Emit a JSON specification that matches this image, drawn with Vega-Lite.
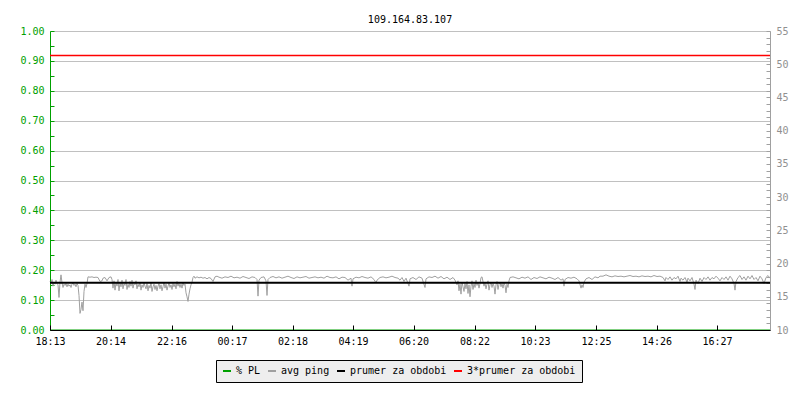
{
  "$schema": "https://vega.github.io/schema/vega-lite/v6.json",
  "width": 720,
  "height": 299,
  "autosize": "none",
  "padding": {"left": 50, "top": 31, "right": 30, "bottom": 70},
  "background": "white",
  "config": {
    "view": {"stroke": null},
    "font": "DejaVu Sans Mono",
    "axis": {"labelFont": "DejaVu Sans Mono", "labelFontSize": 10}
  },
  "title": {"text": "109.164.83.107", "font": "DejaVu Sans Mono", "fontSize": 10, "fontWeight": "normal", "color": "black", "anchor": "middle", "offset": 1},
  "datasets": {
    "pl": [{"m": 0, "pl": 0}, {"m": 1440, "pl": 0}],
    "ping": [
      {"m":0,"v":17.3},{"m":2,"v":17.0},{"m":4,"v":17.6},{"m":6,"v":16.6},{"m":8,"v":17.2},{"m":10,"v":16.9},{"m":12,"v":17.5},{"m":14,"v":17.0},{"m":16,"v":16.8},{"m":18,"v":14.9},{"m":20,"v":17.2},{"m":22,"v":18.3},{"m":24,"v":17.1},{"m":26,"v":16.4},{"m":28,"v":16.9},{"m":30,"v":16.7},{"m":32,"v":17.0},{"m":34,"v":16.5},{"m":36,"v":16.9},{"m":38,"v":16.6},{"m":40,"v":16.8},{"m":42,"v":16.4},{"m":44,"v":16.9},{"m":46,"v":17.1},{"m":48,"v":16.7},{"m":50,"v":16.9},{"m":52,"v":16.5},{"m":54,"v":17.0},{"m":56,"v":16.7},{"m":58,"v":15.2},{"m":60,"v":12.5},{"m":62,"v":13.1},{"m":64,"v":14.2},{"m":66,"v":12.9},{"m":68,"v":15.8},{"m":70,"v":16.9},{"m":72,"v":16.4},{"m":74,"v":17.0},{"m":76,"v":18.0},{"m":80,"v":17.95},{"m":84,"v":18.0},{"m":88,"v":17.9},{"m":92,"v":17.95},{"m":96,"v":17.9},{"m":100,"v":17.3},{"m":104,"v":17.4},{"m":106,"v":17.8},{"m":110,"v":17.9},{"m":114,"v":17.4},{"m":118,"v":17.9},{"m":122,"v":18.0},{"m":124,"v":17.6},
      {"m":126,"v":16.3},{"m":128,"v":17.4},{"m":130,"v":16.0},{"m":132,"v":17.2},{"m":134,"v":16.6},{"m":136,"v":17.6},{"m":138,"v":15.9},{"m":140,"v":17.1},{"m":142,"v":16.5},{"m":144,"v":17.5},{"m":146,"v":16.2},{"m":148,"v":17.0},{"m":150,"v":16.7},{"m":152,"v":17.6},{"m":154,"v":16.1},{"m":156,"v":16.9},{"m":158,"v":16.4},{"m":160,"v":17.3},{"m":162,"v":16.6},{"m":164,"v":17.5},{"m":166,"v":16.3},{"m":168,"v":17.0},{"m":170,"v":16.8},{"m":172,"v":17.4},{"m":174,"v":16.2},{"m":176,"v":16.9},{"m":178,"v":16.5},{"m":180,"v":17.2},{"m":182,"v":16.0},{"m":184,"v":16.8},{"m":186,"v":16.4},{"m":188,"v":17.1},{"m":190,"v":16.6},{"m":192,"v":16.2},{"m":194,"v":17.0},{"m":196,"v":15.9},{"m":198,"v":16.7},{"m":200,"v":16.3},{"m":202,"v":17.1},{"m":204,"v":15.8},{"m":206,"v":16.5},{"m":208,"v":16.9},{"m":210,"v":16.1},{"m":212,"v":16.7},{"m":214,"v":15.9},{"m":216,"v":16.6},{"m":218,"v":17.0},{"m":220,"v":16.2},{"m":222,"v":16.8},{"m":224,"v":15.9},{"m":226,"v":16.5},{"m":228,"v":17.2},{"m":230,"v":16.3},{"m":232,"v":16.9},{"m":234,"v":16.0},{"m":236,"v":16.6},{"m":238,"v":17.1},{"m":240,"v":16.4},{"m":242,"v":16.8},{"m":244,"v":16.1},{"m":246,"v":17.0},{"m":248,"v":16.5},{"m":250,"v":16.9},{"m":252,"v":16.2},{"m":254,"v":17.3},{"m":256,"v":16.6},{"m":258,"v":17.0},{"m":260,"v":16.4},{"m":262,"v":16.9},{"m":264,"v":16.3},{"m":266,"v":17.1},{"m":268,"v":16.7},{"m":270,"v":16.9},{"m":272,"v":15.6},{"m":274,"v":15.0},{"m":276,"v":14.3},{"m":278,"v":15.4},{"m":280,"v":16.2},{"m":282,"v":16.8},{"m":284,"v":17.2},
      {"m":286,"v":17.9},{"m":288,"v":18.1},{"m":290,"v":17.8},{"m":294,"v":18.0},{"m":298,"v":17.85},{"m":302,"v":17.95},{"m":306,"v":17.8},{"m":310,"v":17.9},{"m":314,"v":17.7},{"m":318,"v":17.9},{"m":322,"v":17.75},{"m":326,"v":17.3},{"m":330,"v":18.0},{"m":334,"v":18.1},{"m":338,"v":17.95},{"m":344,"v":17.8},{"m":350,"v":18.0},{"m":356,"v":17.9},{"m":362,"v":18.1},{"m":368,"v":17.85},{"m":374,"v":17.95},{"m":380,"v":17.8},{"m":386,"v":18.05},{"m":392,"v":17.9},{"m":398,"v":17.75},{"m":404,"v":18.0},{"m":410,"v":17.9},{"m":414,"v":17.6},{"m":416,"v":15.1},{"m":418,"v":17.5},{"m":422,"v":17.9},{"m":428,"v":18.0},{"m":432,"v":17.4},{"m":434,"v":15.2},{"m":436,"v":17.6},{"m":440,"v":17.9},{"m":446,"v":18.05},{"m":452,"v":17.85},{"m":458,"v":18.0},{"m":464,"v":17.8},{"m":470,"v":17.95},{"m":476,"v":18.1},{"m":482,"v":17.9},{"m":488,"v":17.75},{"m":494,"v":18.0},{"m":500,"v":17.85},{"m":506,"v":17.95},{"m":512,"v":18.05},{"m":518,"v":17.8},{"m":524,"v":17.9},{"m":530,"v":18.0},{"m":536,"v":17.85},{"m":542,"v":17.95},{"m":548,"v":17.8},{"m":554,"v":18.1},{"m":560,"v":17.9},{"m":566,"v":17.85},{"m":572,"v":18.0},{"m":578,"v":17.7},{"m":584,"v":17.95},{"m":590,"v":17.9},{"m":596,"v":17.5},{"m":602,"v":17.8},{"m":604,"v":16.6},{"m":606,"v":17.7},{"m":612,"v":17.95},{"m":618,"v":17.85},{"m":624,"v":18.05},{"m":630,"v":17.9},{"m":636,"v":17.8},{"m":642,"v":18.0},{"m":648,"v":17.6},{"m":652,"v":17.1},{"m":654,"v":17.5},{"m":660,"v":17.9},{"m":666,"v":18.0},{"m":672,"v":17.85},{"m":678,"v":17.95},{"m":684,"v":18.1},{"m":690,"v":17.9},
      {"m":696,"v":17.8},{"m":700,"v":17.5},{"m":704,"v":17.9},{"m":708,"v":17.3},{"m":712,"v":17.8},{"m":718,"v":16.6},{"m":720,"v":17.7},{"m":726,"v":17.9},{"m":732,"v":17.6},{"m":738,"v":18.0},{"m":744,"v":17.8},{"m":750,"v":16.4},{"m":752,"v":17.7},{"m":758,"v":18.0},{"m":764,"v":17.9},{"m":770,"v":18.1},{"m":776,"v":17.8},{"m":782,"v":18.05},{"m":788,"v":17.7},{"m":794,"v":17.95},{"m":800,"v":17.6},{"m":806,"v":17.9},{"m":810,"v":17.5},
      {"m":814,"v":16.8},{"m":816,"v":17.4},{"m":818,"v":15.9},{"m":820,"v":16.9},{"m":822,"v":15.4},{"m":824,"v":17.2},{"m":826,"v":16.5},{"m":828,"v":15.8},{"m":830,"v":17.0},{"m":832,"v":16.2},{"m":834,"v":17.3},{"m":836,"v":15.5},{"m":838,"v":16.8},{"m":840,"v":15.0},{"m":842,"v":16.6},{"m":844,"v":17.4},{"m":846,"v":16.1},{"m":848,"v":17.0},{"m":850,"v":16.4},{"m":852,"v":17.5},{"m":854,"v":16.7},{"m":856,"v":17.2},{"m":858,"v":16.3},{"m":860,"v":17.0},{"m":862,"v":17.9},{"m":864,"v":18.0},{"m":866,"v":17.3},{"m":868,"v":16.6},{"m":870,"v":17.1},{"m":872,"v":16.2},{"m":874,"v":16.9},{"m":876,"v":17.4},{"m":878,"v":16.0},{"m":880,"v":16.8},{"m":882,"v":17.2},{"m":884,"v":16.4},{"m":886,"v":17.0},{"m":888,"v":16.6},{"m":890,"v":15.4},{"m":892,"v":16.8},{"m":894,"v":17.3},{"m":896,"v":16.1},{"m":898,"v":16.9},{"m":900,"v":17.2},{"m":902,"v":16.5},{"m":904,"v":17.0},{"m":906,"v":16.3},{"m":908,"v":17.1},{"m":910,"v":16.7},{"m":912,"v":15.6},{"m":914,"v":16.9},{"m":916,"v":16.4},{"m":918,"v":17.4},{"m":920,"v":17.9},
      {"m":926,"v":18.0},{"m":932,"v":17.85},{"m":938,"v":17.7},{"m":944,"v":17.95},{"m":950,"v":17.8},{"m":956,"v":18.0},{"m":962,"v":17.6},{"m":968,"v":17.9},{"m":974,"v":17.75},{"m":980,"v":18.0},{"m":986,"v":17.85},{"m":992,"v":17.7},{"m":998,"v":17.95},{"m":1004,"v":17.8},{"m":1010,"v":17.6},{"m":1016,"v":17.9},{"m":1022,"v":17.5},{"m":1026,"v":17.7},{"m":1028,"v":16.6},{"m":1030,"v":17.6},{"m":1036,"v":17.9},{"m":1042,"v":17.8},{"m":1048,"v":17.95},{"m":1054,"v":17.7},{"m":1058,"v":17.4},{"m":1062,"v":16.3},{"m":1064,"v":16.8},{"m":1066,"v":16.4},{"m":1068,"v":17.2},{"m":1072,"v":17.7},{"m":1078,"v":17.9},{"m":1084,"v":17.6},{"m":1090,"v":18.0},{"m":1096,"v":17.85},{"m":1100,"v":18.1},
      {"m":1106,"v":18.1},{"m":1112,"v":18.3},{"m":1118,"v":18.1},{"m":1124,"v":18.0},{"m":1130,"v":18.15},{"m":1136,"v":18.05},{"m":1142,"v":18.1},{"m":1148,"v":18.0},{"m":1154,"v":18.1},{"m":1160,"v":18.2},{"m":1166,"v":18.05},{"m":1172,"v":18.1},{"m":1178,"v":18.0},{"m":1184,"v":18.15},{"m":1190,"v":18.05},{"m":1196,"v":18.1},{"m":1202,"v":18.0},{"m":1208,"v":18.2},{"m":1214,"v":18.05},{"m":1220,"v":18.1},{"m":1226,"v":17.9},
      {"m":1230,"v":17.4},{"m":1232,"v":17.9},{"m":1236,"v":17.6},{"m":1240,"v":18.0},{"m":1244,"v":17.5},{"m":1248,"v":17.9},{"m":1252,"v":17.7},{"m":1256,"v":18.1},{"m":1260,"v":17.3},{"m":1262,"v":17.8},{"m":1266,"v":17.5},{"m":1270,"v":17.9},{"m":1274,"v":17.2},{"m":1276,"v":17.8},{"m":1280,"v":17.4},{"m":1284,"v":17.9},{"m":1288,"v":16.9},{"m":1290,"v":16.1},{"m":1292,"v":17.5},{"m":1296,"v":17.0},{"m":1300,"v":17.8},{"m":1304,"v":17.3},{"m":1308,"v":17.9},{"m":1312,"v":17.6},{"m":1316,"v":18.0},{"m":1320,"v":17.5},{"m":1324,"v":17.9},{"m":1328,"v":17.7},{"m":1332,"v":18.1},{"m":1336,"v":17.8},{"m":1340,"v":17.4},{"m":1344,"v":17.9},{"m":1348,"v":17.6},{"m":1352,"v":18.0},{"m":1356,"v":17.5},{"m":1360,"v":18.1},{"m":1364,"v":17.7},{"m":1368,"v":17.0},{"m":1370,"v":16.0},{"m":1372,"v":17.3},{"m":1376,"v":17.9},{"m":1380,"v":18.2},{"m":1384,"v":17.6},{"m":1388,"v":18.0},{"m":1392,"v":17.5},{"m":1396,"v":18.1},{"m":1400,"v":17.7},{"m":1404,"v":18.2},{"m":1408,"v":17.6},{"m":1412,"v":17.9},{"m":1416,"v":17.4},{"m":1420,"v":18.1},{"m":1424,"v":17.7},{"m":1428,"v":17.0},{"m":1432,"v":17.9},{"m":1436,"v":18.2},{"m":1440,"v":17.8}
    ],
    "mean": [{"v": 17.1}],
    "mean3": [{"v": 51.3}]
  },
  "layer": [
    {
      "data": {"name": "ping"},
      "mark": {"type": "line", "strokeWidth": 1},
      "encoding": {
        "x": {
          "field": "m", "type": "quantitative",
          "scale": {"domain": [0, 1440], "nice": false, "zero": false},
          "axis": {
            "title": null, "grid": false, "zindex": 1,
            "values": [0, 121, 243, 364, 485, 606, 727, 849, 970, 1092, 1213, 1334],
            "labelExpr": "format(floor(((1093 + datum.value) % 1440) / 60), '02d') + ':' + format((1093 + datum.value) % 60, '02d')",
            "domainColor": "black", "tickColor": "black", "tickSize": -5, "labelPadding": 11,
            "labelColor": "black", "labelFlush": false
          }
        },
        "y": {
          "field": "v", "type": "quantitative",
          "scale": {"domain": [10, 55], "nice": false, "zero": false},
          "axis": {
            "title": null, "orient": "right", "grid": false,
            "values": [10,11,12,13,14,15,16,17,18,19,20,21,22,23,24,25,26,27,28,29,30,31,32,33,34,35,36,37,38,39,40,41,42,43,44,45,46,47,48,49,50,51,52,53,54,55],
            "labelExpr": "datum.value % 5 == 0 ? datum.label : ''",
            "domainColor": "#a0a0a0", "tickColor": "#a0a0a0", "labelColor": "#909090",
            "tickSize": -4, "labelPadding": 10, "labelFlush": false
          }
        },
        "color": {
          "datum": "avg ping",
          "scale": {
            "domain": ["% PL", "avg ping", "prumer za obdobi", "3*prumer za obdobi"],
            "range": ["#00a000", "#a0a0a0", "#000000", "#ff0000"]
          },
          "legend": {
            "orient": "none", "legendX": 166, "legendY": 329, "direction": "horizontal",
            "title": null, "symbolType": "stroke", "symbolSize": 64, "symbolStrokeWidth": 2,
            "labelFont": "DejaVu Sans Mono", "labelFontSize": 10, "labelColor": "black",
            "fillColor": "#eeeeee", "strokeColor": "black", "padding": 6,
            "columnPadding": 3, "labelOffset": 4
          }
        }
      }
    },
    {
      "data": {"name": "pl"},
      "mark": {"type": "line", "strokeWidth": 1},
      "encoding": {
        "x": {"field": "m", "type": "quantitative"},
        "y": {
          "field": "pl", "type": "quantitative",
          "scale": {"domain": [0, 1], "nice": false},
          "axis": {
            "title": null, "orient": "left",
            "values": [0, 0.05, 0.1, 0.15, 0.2, 0.25, 0.3, 0.35, 0.4, 0.45, 0.5, 0.55, 0.6, 0.65, 0.7, 0.75, 0.8, 0.85, 0.9, 0.95, 1],
            "labelExpr": "round(datum.value * 100) % 10 == 0 ? format(datum.value, '.2f') : ''",
            "domainColor": "#00a000", "tickColor": "#00a000", "labelColor": "#00a000",
            "tickSize": -4, "labelPadding": 10, "labelFlush": false,
            "grid": true, "gridColor": "#c0c0c0",
            "gridOpacity": {"condition": {"test": "round(datum.value * 100) % 10 != 0", "value": 0}, "value": 1}
          }
        },
        "color": {"datum": "% PL", "legend": null}
      }
    },
    {
      "data": {"name": "mean"},
      "mark": {"type": "rule", "strokeWidth": 2},
      "encoding": {
        "y": {"field": "v", "type": "quantitative", "scale": {"domain": [10, 55], "nice": false, "zero": false}, "axis": null},
        "color": {"datum": "prumer za obdobi", "legend": null}
      }
    },
    {
      "data": {"name": "mean3"},
      "mark": {"type": "rule", "strokeWidth": 1.5},
      "encoding": {
        "y": {"field": "v", "type": "quantitative", "scale": {"domain": [10, 55], "nice": false, "zero": false}, "axis": null},
        "color": {"datum": "3*prumer za obdobi", "legend": null}
      }
    }
  ],
  "resolve": {"scale": {"y": "independent"}, "axis": {"y": "independent"}}
}
